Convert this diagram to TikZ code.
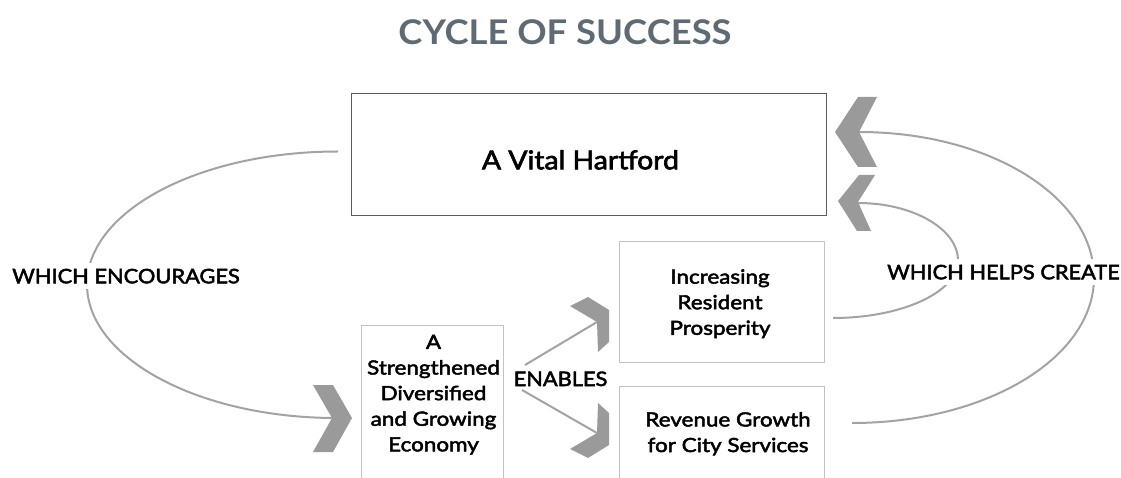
\documentclass[tikz,border=0pt]{standalone}
\usepackage{fontspec}
\setmainfont{Lato}[FakeStretch=1.15, FakeBold=2.5]
\newfontfamily\capsfont{Lato}[FakeStretch=1.09, FakeBold=2.5]
\newfontfamily\titlefont{Lato}[FakeStretch=1.07]
\definecolor{vitalgray}{HTML}{5C5C5C}
\definecolor{boxgray}{HTML}{C2C2C2}
\definecolor{conngray}{HTML}{A3A3A3}
\definecolor{chevgray}{HTML}{9A9A9A}
\definecolor{titlegray}{HTML}{5F6A72}
\begin{document}
\begin{tikzpicture}[x=1pt,y=-1pt,
  vbox/.style={draw=vitalgray, line width=1.4, inner sep=0, rectangle, anchor=north west},
  lbox/.style={draw=boxgray, line width=1.3, inner sep=0, rectangle, anchor=north west},
  txt/.style={inner sep=0, align=center, font=\fontsize{19.5}{25.6}\selectfont},
  lbl/.style={fill=white, inner xsep=2, inner ysep=6, anchor=base, font=\capsfont\fontsize{20}{24}\selectfont},
  conn/.style={draw=conngray, line width=2},
  chev/.style={fill=chevgray, draw=none}]
\useasboundingbox (0,0) rectangle (1121,478);

% title
\node[anchor=base, inner sep=0, text=titlegray, font=\titlefont\bfseries\fontsize{34}{40}\selectfont] (title) at (565,45) {CYCLE OF SUCCESS};

% boxes
\node[vbox, minimum width=475, minimum height=122] (vital) at (351,93) {};
\node[anchor=base, inner sep=0, font=\capsfont\fontsize{26}{31}\selectfont] (vitaltxt) at (580.4,169.3) {A Vital Hartford};
\node[lbox, minimum width=142, minimum height=175] (econbox) at (361,325) {};
\node[txt] (econ) at (433.5,395) {\strut A\\\strut Strengthened\\\strut Diversified\\\strut and Growing\\\strut Economy};
\node[lbox, minimum width=205, minimum height=121] (prosbox) at (619,241) {};
\node[txt] (pros) at (720,304.1) {\strut Increasing\\\strut Resident\\\strut Prosperity};
\node[lbox, minimum width=205, minimum height=115] (revbox) at (619,386) {};
\node[txt] (rev) at (728,434.1) {\strut Revenue Growth\\\strut for City Services};

% connector end points (chevron notches)
\coordinate (lTop) at (338,151.5);
\coordinate (nL) at (336,418);
\coordinate (nT1) at (859,132);
\coordinate (rB1) at (852,423);
\coordinate (nT2) at (858,203);
\coordinate (rB2) at (833,318);
\coordinate (e1) at (525,365);
\coordinate (e2) at (522,390);
\coordinate (nU) at (597,322);
\coordinate (nD) at (597,433);

% connectors
\draw[conn] (lTop) .. controls (199,151.5) and (87,211) .. (87,284.5)
                   .. controls (87,358) and (199,418) .. (nL);
\draw[conn] (nT1) .. controls (990,132) and (1094,197) .. (1094,277.5)
                  .. controls (1094,358) and (986,423) .. (rB1);
\draw[conn] (nT2) .. controls (913,203) and (958,229) .. (958,260.5)
                  .. controls (958,292) and (902,318) .. (rB2);
\draw[conn] (e1) -- (nU);
\draw[conn] (e2) -- (nD);

% labels
\node[lbl] (enc) at (126,283.3) {WHICH ENCOURAGES};
\node[lbl] (help) at (1003.5,279.3) {WHICH HELPS CREATE};
\node[anchor=base, inner sep=0, font=\capsfont\fontsize{20}{24}\selectfont] (enab) at (560.5,386) {ENABLES};

% chevrons
\fill[chev] (313,385) -- (333,385) -- (352,418) -- (333,452) -- (313,452) -- (332,418) -- cycle;
\fill[chev] (858,97) -- (877,97) -- (859,132) -- (877,167) -- (858,167) -- (835,132) -- cycle;
\fill[chev] (859,175) -- (875,175) -- (858,202) -- (871,231) -- (857,231) -- (838,201) -- cycle;
\fill[chev] (570,306) -- (588,297) -- (609,310) -- (609,342) -- (598,352) -- (597,322) -- cycle;
\fill[chev] (570,449) -- (588,458) -- (609,445) -- (609,413) -- (598,403) -- (597,433) -- cycle;
\end{tikzpicture}
\end{document}
